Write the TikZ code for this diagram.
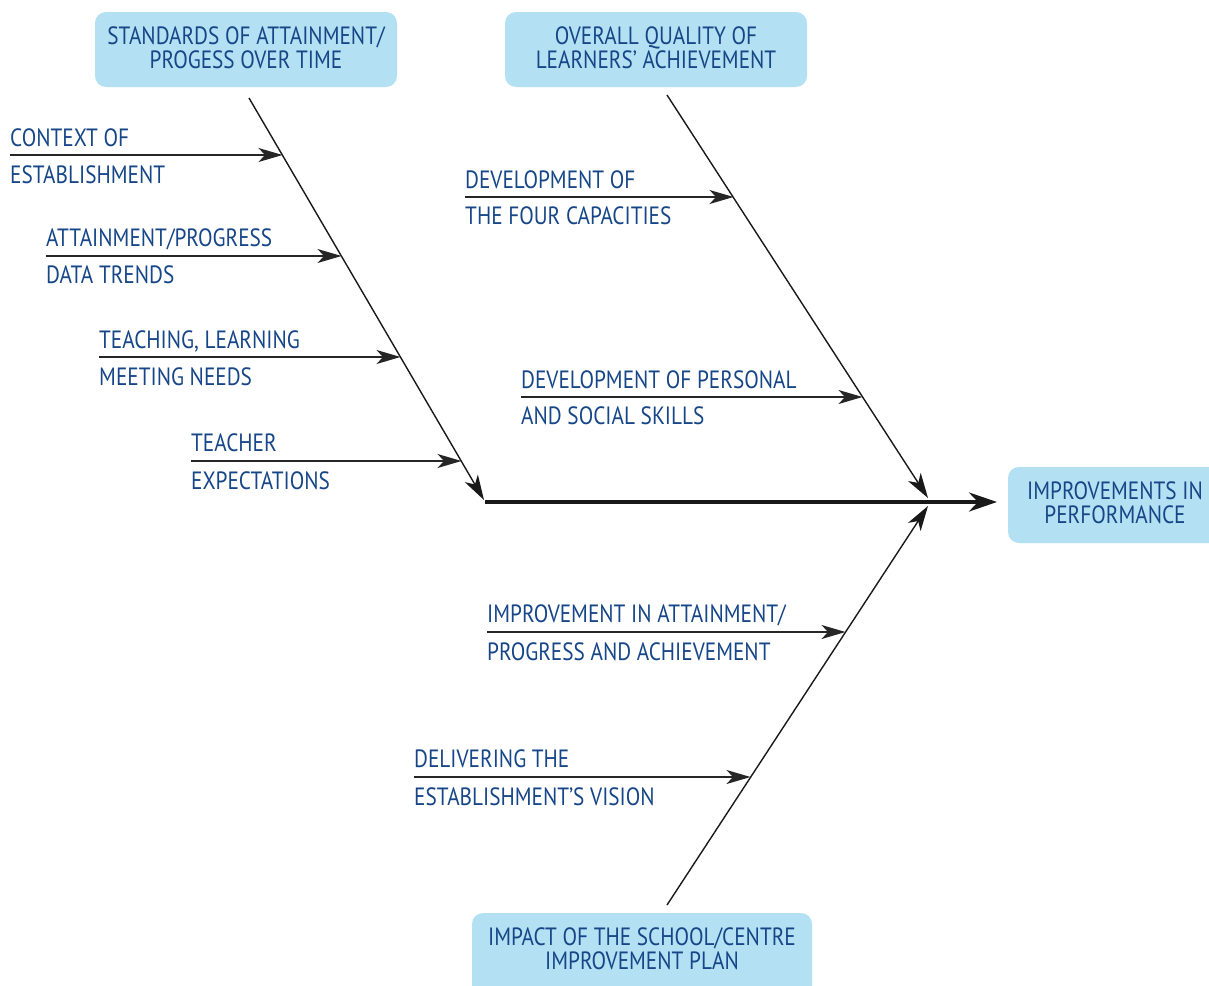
\documentclass[tikz,border=0pt]{standalone}
\usepackage{fontspec}
\setmainfont{PT Sans}[FakeStretch=0.85]
\usetikzlibrary{arrows.meta}
\definecolor{txtblue}{RGB}{22,70,135}
\definecolor{boxblue}{RGB}{179,224,242}
\tikzset{
  box/.style={fill=boxblue, rounded corners=11pt, inner sep=0pt},
  boxtext/.style={text=txtblue, font=\fontsize{25}{24}\selectfont, align=center, inner sep=0pt},
  lab/.style={text=txtblue, font=\fontsize{25}{25}\selectfont, anchor=base west, inner sep=0pt},
  bone/.style={line width=1.4pt, draw=black!90, -{Stealth[length=25pt,width=15pt,inset=7pt]}},
  twig/.style={line width=1.4pt, draw=black!85, -{Stealth[length=24pt,width=14pt,inset=6.5pt]}},
  spine/.style={line width=4pt, draw=black!90, -{Stealth[length=28pt,width=19pt,inset=9pt]}}
}
\begin{document}
\begin{tikzpicture}[x=1pt,y=-1pt]
\useasboundingbox (0,0) rectangle (1209,985);
\clip (0,0) rectangle (1209,985);

% boxes
\node[box, minimum width=302pt, minimum height=75pt] (b1) at (246,49.5) {};
\node[boxtext] (b1t) at (246,48) {STANDARDS OF ATTAINMENT/\\PROGESS OVER TIME};
\node[box, minimum width=302pt, minimum height=75pt] (b2) at (656,49.5) {};
\node[boxtext] (b2t) at (656,48) {OVERALL QUALITY OF\\LEARNERS’ ACHIEVEMENT};
\node[box, minimum width=240pt, minimum height=76pt] (b3) at (1128,505) {};
\node[boxtext] (b3t) at (1115,503) {IMPROVEMENTS IN\\PERFORMANCE};
\node[box, minimum width=340pt, minimum height=100pt] (b4) at (642,963) {};
\node[boxtext] (b4t) at (642,949) {IMPACT OF THE SCHOOL/CENTRE\\IMPROVEMENT PLAN};

% bones
\coordinate (s1) at (249,98);
\coordinate (j1) at (484,500);
\coordinate (s2) at (667,95);
\coordinate (j2) at (928,498);
\coordinate (s3) at (667,905);
\coordinate (j3) at (928,506);
\coordinate (sp0) at (485,502);
\coordinate (sp1) at (997,502);

\draw[bone] (s1) -- (j1);
\draw[bone] (s2) -- (j2);
\draw[bone] (s3) -- (j3);
\draw[spine] (sp0) -- (sp1);

% twigs
\coordinate (a1) at (10,155);  \coordinate (t1) at (282.5,155);
\coordinate (a2) at (46,256);  \coordinate (t2) at (341.5,256);
\coordinate (a3) at (99,357);  \coordinate (t3) at (400.5,357);
\coordinate (a4) at (191,461); \coordinate (t4) at (461.5,461);
\coordinate (a5) at (465,197); \coordinate (t5) at (733.5,197);
\coordinate (a6) at (521,397); \coordinate (t6) at (862.5,397);
\coordinate (a7) at (487,632); \coordinate (t7) at (845.5,632);
\coordinate (a8) at (414,777); \coordinate (t8) at (750.5,777);

\draw[twig] (a1) -- (t1);
\draw[twig] (a2) -- (t2);
\draw[twig] (a3) -- (t3);
\draw[twig] (a4) -- (t4);
\draw[twig] (a5) -- (t5);
\draw[twig] (a6) -- (t6);
\draw[twig] (a7) -- (t7);
\draw[twig] (a8) -- (t8);

% labels
\node[lab] (l1a) at (10,146) {CONTEXT OF};
\node[lab] (l1b) at (10,183) {ESTABLISHMENT};
\node[lab] (l2a) at (46,246) {ATTAINMENT/PROGRESS};
\node[lab] (l2b) at (46,283) {DATA TRENDS};
\node[lab] (l3a) at (99,348) {TEACHING, LEARNING};
\node[lab] (l3b) at (99,385) {MEETING NEEDS};
\node[lab] (l4a) at (191,451) {TEACHER};
\node[lab] (l4b) at (191,489) {EXPECTATIONS};
\node[lab] (l5a) at (465,188) {DEVELOPMENT OF};
\node[lab] (l5b) at (465,224) {THE FOUR CAPACITIES};
\node[lab] (l6a) at (521,388) {DEVELOPMENT OF PERSONAL};
\node[lab] (l6b) at (521,424) {AND SOCIAL SKILLS};
\node[lab] (l7a) at (487,622) {IMPROVEMENT IN ATTAINMENT/};
\node[lab] (l7b) at (487,660) {PROGRESS AND ACHIEVEMENT};
\node[lab] (l8a) at (414,767) {DELIVERING THE};
\node[lab] (l8b) at (414,805) {ESTABLISHMENT’S VISION};
\end{tikzpicture}
\end{document}
